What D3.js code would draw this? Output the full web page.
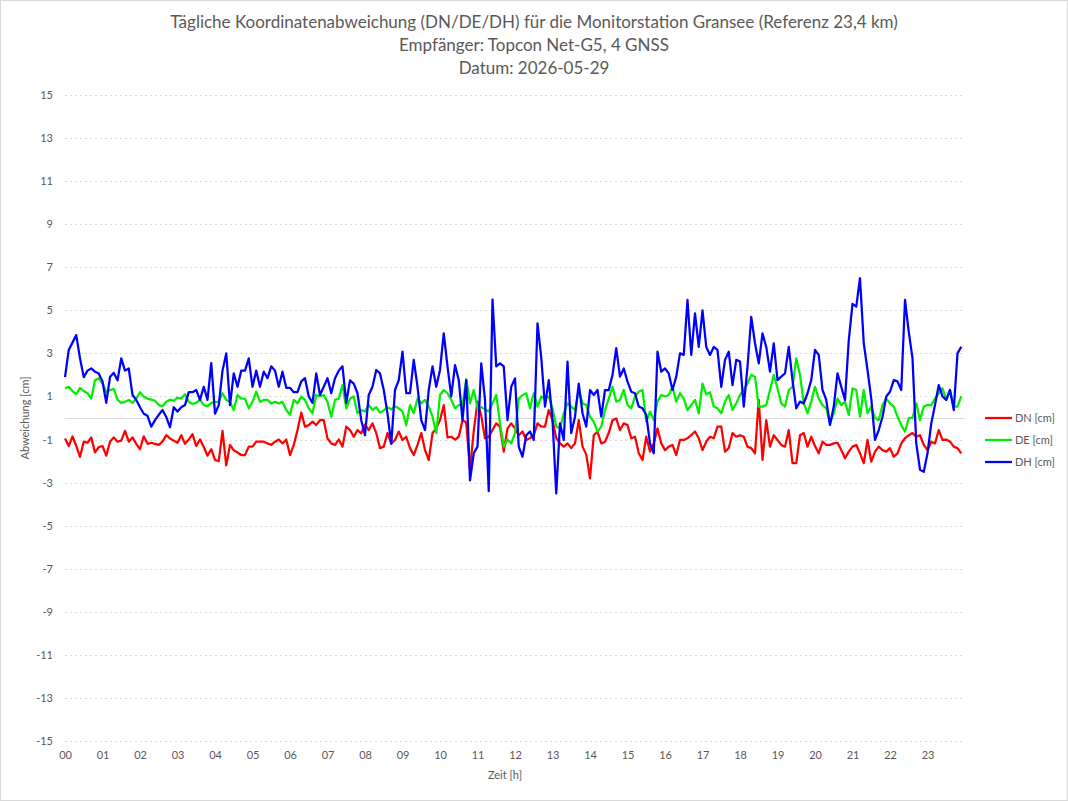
<!DOCTYPE html>
<html>
<head>
<meta charset="utf-8">
<script src="https://cdn.jsdelivr.net/npm/d3@7"></script>
<style>
  body { margin: 0; background: #fff; }
  svg { display: block; font-family: Lato, "Open Sans", sans-serif; }
</style>
</head>
<body>
<svg id="chart" width="1068" height="801"></svg>
<script>
// chart texts
var titleLines = [
  "Tägliche Koordinatenabweichung (DN/DE/DH) für die Monitorstation Gransee (Referenz 23,4 km)",
  "Empfänger: Topcon Net-G5, 4 GNSS",
  "Datum: 2026-05-29"
];
var hourLabels = ["00","01","02","03","04","05","06","07","08","09","10","11",
                  "12","13","14","15","16","17","18","19","20","21","22","23"];
var yTicks = [15,13,11,9,7,5,3,1,-1,-3,-5,-7,-9,-11,-13,-15];
var seriesNames = ["DN [cm]", "DE [cm]", "DH [cm]"];

// one sample every 0.1 h
var sampleStep = 0.1;

var dn = [
  -0.95,-1.3,-0.85,-1.3,-1.8,-1.1,-1.15,-0.9,-1.6,-1.35,
  -1.3,-1.75,-1.1,-0.9,-1.1,-1.05,-0.6,-1.1,-0.9,-1.2,
  -1.45,-0.85,-1.2,-1.15,-1.2,-1.25,-1.1,-0.8,-0.95,-1.05,
  -1.15,-0.8,-1.2,-1.0,-0.75,-1.3,-1.0,-1.35,-1.75,-1.45,
  -1.95,-2.0,-0.6,-2.2,-1.25,-1.5,-1.6,-1.72,-1.72,-1.33,
  -1.33,-1.1,-1.1,-1.1,-1.18,-1.25,-1.1,-1.0,-1.18,-1.0,
  -1.72,-1.25,-0.56,0.25,-0.4,-0.33,-0.17,-0.33,-0.1,-0.1,
  -0.95,-1.18,-1.25,-1.0,-1.33,-0.4,-0.56,-0.87,-0.56,-0.71,
  -0.3,-0.56,-0.25,-0.7,-1.4,-1.33,-0.7,-1.18,-1.02,-0.63,
  -1.02,-0.87,-1.4,-1.72,-1.25,-0.7,-1.49,-1.95,-0.7,-0.48,
  -0.1,0.6,-0.9,-0.87,-1.0,-0.87,-0.1,-0.2,-2.4,-0.6,
  0.76,0.1,-0.94,-0.87,-0.56,-0.25,-0.4,-1.56,-0.48,-0.25,
  -0.48,-0.8,-0.63,-1.02,-0.94,-0.8,-0.25,-0.4,-0.4,0.37,
  -0.1,-0.94,-1.18,-1.33,-1.18,-1.4,-1.18,-0.1,-1.33,-1.7,
  -2.8,-0.8,-0.63,-1.18,-1.1,-0.7,-0.1,-0.02,-0.56,-0.25,
  -0.33,-0.94,-0.87,-1.64,-1.95,-0.87,-1.56,-1.18,-0.48,-1.18,
  -1.49,-1.33,-1.25,-1.72,-1.02,-1.02,-0.94,-0.8,-0.63,-0.94,
  -1.49,-1.1,-0.87,-0.94,-0.4,-0.4,-1.56,-1.4,-0.7,-0.87,
  -0.8,-0.87,-1.33,-1.4,-1.64,0.84,-1.95,-0.1,-1.33,-0.8,
  -1.02,-1.25,-1.33,-0.56,-2.1,-2.1,-0.8,-0.7,-1.33,-0.87,
  -1.3,-1.64,-1.1,-1.25,-1.25,-1.18,-1.15,-1.49,-1.87,-1.56,
  -1.33,-1.25,-1.64,-2.1,-1.02,-2.03,-1.56,-1.33,-1.49,-1.56,
  -1.4,-1.8,-1.64,-1.18,-0.94,-0.8,-0.7,-0.87,-0.8,-1.25,
  -1.49,-1.1,-1.18,-0.56,-1.02,-1.0,-1.1,-1.33,-1.4,-1.64
];

var de = [
  1.38,1.45,1.25,1.1,1.4,1.25,1.15,0.9,1.75,1.85,
  1.6,1.2,1.3,1.35,0.85,0.7,0.75,0.84,0.7,0.9,
  1.2,1.0,0.9,0.85,0.8,0.6,0.55,0.75,0.85,0.8,
  0.95,0.9,1.1,0.75,0.65,0.7,0.85,0.6,0.55,0.7,
  0.75,0.75,1.15,0.84,0.75,0.37,1.07,0.9,0.9,0.45,
  0.75,1.22,0.75,0.84,0.84,0.68,0.75,0.68,0.75,0.37,
  0.15,0.84,0.68,1.0,0.84,0.45,0.22,1.07,1.0,1.07,
  0.75,0.06,0.84,0.9,1.53,0.45,0.9,1.0,0.22,0.37,
  0.3,0.6,0.37,0.5,0.25,0.35,0.5,0.4,0.55,0.45,
  0.3,-0.33,0.6,0.22,0.9,0.68,0.84,0.53,0.06,-0.7,
  1.07,1.3,1.15,0.84,0.45,0.6,0.6,1.8,0.68,1.3,
  0.45,0.5,0.4,0.3,0.68,1.07,-0.25,-1.33,-1.0,-1.18,
  -0.7,0.9,1.07,1.15,0.45,1.15,0.53,1.0,0.9,1.0,
  0.45,-0.4,-0.48,0.22,0.68,0.53,0.37,1.3,0.68,0.6,
  0.06,-0.17,-0.63,-0.4,0.37,0.9,1.45,0.76,0.84,1.3,
  0.6,0.45,1.0,1.22,1.3,-0.17,0.3,-0.1,0.76,1.07,
  1.0,1.07,1.45,0.76,1.15,0.9,0.37,0.6,0.84,0.22,
  1.6,1.1,1.2,0.53,0.45,0.22,0.76,1.07,0.37,0.68,
  1.07,1.3,1.61,2.0,1.92,0.53,0.53,0.6,1.3,2.0,
  1.38,0.68,0.53,1.3,1.45,2.77,2.0,0.68,0.22,0.76,
  1.45,0.9,0.6,0.45,-0.25,0.22,0.9,0.6,0.76,0.14,
  1.38,1.3,0.06,1.3,0.22,0.53,0.0,-0.1,0.6,0.9,
  0.68,0.53,0.06,-0.33,-0.63,0.0,0.0,0.68,-0.1,0.53,
  0.6,0.6,0.9,1.15,1.38,0.84,1.3,0.53,0.53,1.0
];

var dh = [
  1.9,3.16,3.5,3.85,2.77,1.9,2.2,2.3,2.15,2.07,
  1.7,0.7,1.9,2.1,1.75,2.77,2.2,2.3,1.07,0.84,
  0.5,0.2,0.1,-0.4,-0.1,0.15,0.37,0.05,-0.43,0.5,
  0.3,0.5,0.6,1.2,1.2,1.3,0.84,1.45,0.84,2.55,
  0.2,0.6,2.2,3.0,0.6,2.07,1.45,2.2,2.2,2.77,
  1.45,2.2,1.45,2.15,1.85,2.4,2.2,1.45,2.15,1.4,
  1.4,1.2,1.2,1.7,1.85,1.0,0.7,2.07,1.07,1.45,
  1.85,1.15,1.85,2.2,2.4,0.7,1.75,1.6,1.15,-0.1,
  -0.8,1.07,1.45,2.23,2.07,1.3,0.2,-1.2,1.3,1.76,
  3.08,1.15,1.15,2.7,1.45,-0.1,-0.56,1.3,2.4,1.45,
  2.23,3.93,2.4,1.0,2.46,1.76,-0.1,1.76,-2.9,-1.64,
  -1.33,2.54,0.84,-3.4,5.5,2.4,2.54,2.4,-0.1,1.45,
  1.84,-1.33,-1.8,-0.8,-0.63,-1.02,4.4,2.8,0.53,1.76,
  -0.1,-3.5,-0.25,-1.02,2.62,-0.7,0.06,1.6,0.22,-0.4,
  1.3,1.07,1.3,0.06,1.3,1.3,2.0,3.24,1.92,2.3,
  1.69,1.22,1.15,0.53,0.45,0.14,-1.18,-1.64,3.08,2.15,
  2.3,2.07,1.3,1.92,3.0,2.93,5.48,2.93,4.86,3.3,
  5.0,3.3,2.93,3.3,3.16,1.45,2.7,3.08,1.53,2.7,
  2.62,0.53,2.38,4.7,3.47,2.54,3.93,3.3,2.15,3.47,
  1.76,1.92,2.07,3.3,1.76,0.45,0.76,0.68,1.15,1.76,
  3.16,2.93,1.3,0.84,-0.33,0.53,2.07,1.45,0.84,3.6,
  5.3,5.17,6.49,3.47,2.23,0.9,-1.02,-0.56,0.06,1.0,
  1.22,1.76,1.7,1.3,5.48,4.0,2.77,-1.18,-2.4,-2.5,
  -1.64,-0.25,0.6,1.53,1.0,0.84,1.3,0.37,3.0,3.31
];

var seriesColors = ["#ff0000", "#00ee00", "#0000ff"];
var series = [dn, de, dh];

var svg = d3.select("#chart");
var margin = {left: 65, right: 103, top: 95, bottom: 60};
var W = 1068, H = 801;

// outer chart border
svg.append("rect")
  .attr("x", 0.5).attr("y", 0.5)
  .attr("width", W - 1).attr("height", H - 1)
  .attr("fill", "#fff").attr("stroke", "#d9d9d9");

var x = d3.scaleLinear().domain([0, 24]).range([margin.left, W - margin.right]);
var y = d3.scaleLinear().domain([-15, 15]).range([H - margin.bottom, margin.top]);

// titles
svg.selectAll("text.title")
  .data(titleLines)
  .enter().append("text")
  .attr("class", "title")
  .attr("x", 534)
  .attr("y", function(d, i){ return 28 + i * 23; })
  .attr("text-anchor", "middle")
  .attr("font-size", 17)
  .attr("fill", "#595959")
  .text(function(d){ return d; });

// gridlines (dotted), zero line solid
svg.append("g")
  .selectAll("line")
  .data(yTicks)
  .enter().append("line")
  .attr("x1", x(0)).attr("x2", x(24))
  .attr("y1", function(d){ return Math.round(y(d)) + 0.5; })
  .attr("y2", function(d){ return Math.round(y(d)) + 0.5; })
  .attr("stroke", "#d9d9d9")
  .attr("stroke-dasharray", "2,3");

svg.append("line")
  .attr("x1", x(0)).attr("x2", x(24))
  .attr("y1", Math.round(y(0)) + 0.5).attr("y2", Math.round(y(0)) + 0.5)
  .attr("stroke", "#d9d9d9");

// y axis labels (plain hyphen minus as in the original)
var yAxis = d3.axisLeft(y).tickValues(yTicks)
  .tickFormat(function(d){ return String(d); })
  .tickSize(0).tickPadding(12);
svg.append("g")
  .attr("transform", "translate(" + x(0) + ",0)")
  .call(yAxis)
  .call(function(g){ g.select(".domain").remove(); })
  .selectAll("text")
  .attr("font-family", "Lato, sans-serif")
  .attr("font-size", 11)
  .attr("fill", "#595959");

// x axis labels
var xAxis = d3.axisBottom(x)
  .tickValues(d3.range(hourLabels.length))
  .tickFormat(function(d){ return hourLabels[d]; })
  .tickSize(0).tickPadding(10);
svg.append("g")
  .attr("transform", "translate(0," + y(-15) + ")")
  .call(xAxis)
  .call(function(g){ g.select(".domain").remove(); })
  .selectAll("text")
  .attr("font-family", "Lato, sans-serif")
  .attr("font-size", 11)
  .attr("fill", "#595959");

// axis titles
svg.append("text")
  .attr("transform", "translate(29," + y(0) + ") rotate(-90)")
  .attr("text-anchor", "middle")
  .attr("font-size", 11)
  .attr("fill", "#595959")
  .text("Abweichung [cm]");

svg.append("text")
  .attr("x", 505).attr("y", 779)
  .attr("text-anchor", "middle")
  .attr("font-size", 11)
  .attr("fill", "#595959")
  .text("Zeit [h]");

// series
var line = d3.line()
  .x(function(d, i){ return x(i * sampleStep); })
  .y(function(d){ return y(d); });

svg.append("g")
  .selectAll("path")
  .data(series)
  .enter().append("path")
  .attr("d", line)
  .attr("fill", "none")
  .attr("stroke", function(d, i){ return seriesColors[i]; })
  .attr("stroke-width", 2.25)
  .attr("stroke-linejoin", "round");

// legend
var legend = svg.append("g")
  .selectAll("g")
  .data(seriesNames)
  .enter().append("g")
  .attr("transform", function(d, i){ return "translate(985," + (418 + i * 22) + ")"; });

legend.append("line")
  .attr("x1", 0).attr("x2", 27)
  .attr("stroke", function(d, i){ return seriesColors[i]; })
  .attr("stroke-width", 2.25);

legend.append("text")
  .attr("x", 30).attr("y", 4)
  .attr("font-size", 11)
  .attr("fill", "#595959")
  .text(function(d){ return d; });
</script>
</body>
</html>
